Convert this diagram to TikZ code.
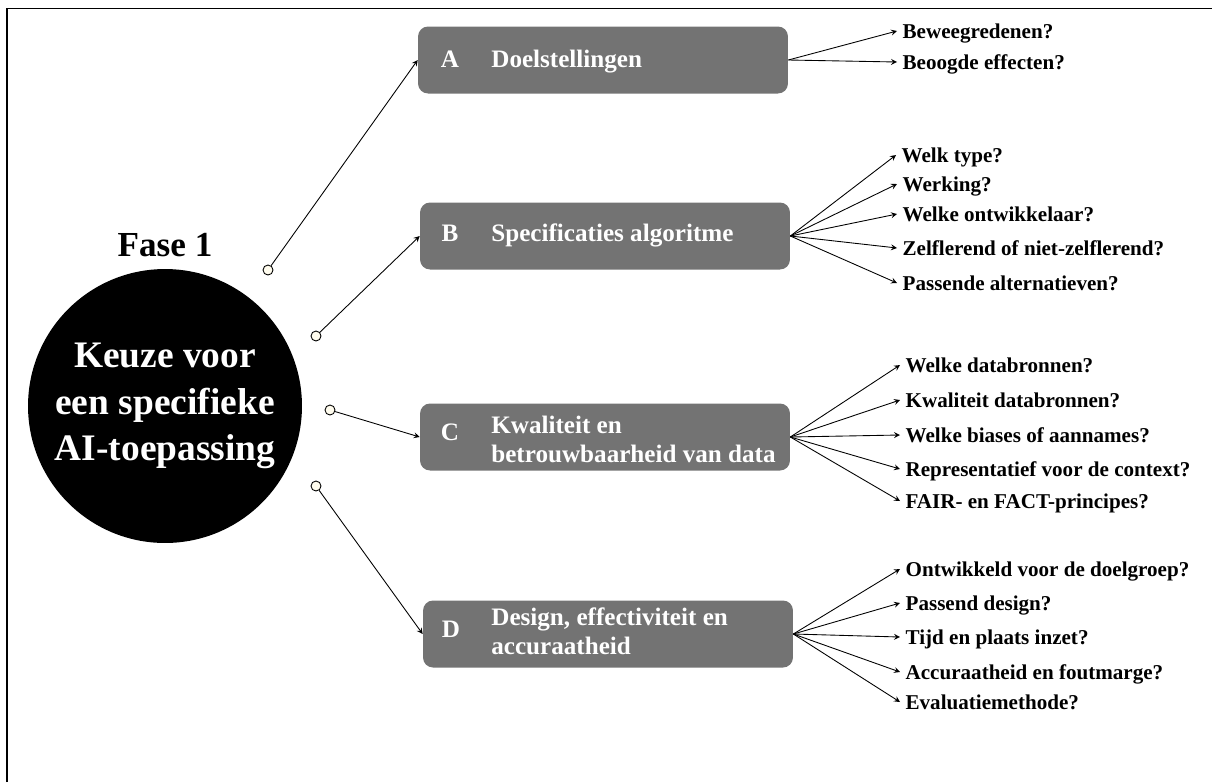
\documentclass[tikz,border=0pt]{standalone}
\usepackage{fontspec}
\setmainfont{Liberation Serif}
\usepackage{tikz}
\usetikzlibrary{shapes.geometric, arrows}
\definecolor{stapgrijs}{HTML}{737373}
\definecolor{puntvul}{HTML}{FFFCEE}
\tikzstyle{arrow} = [line width=0.5pt,->,>=stealth]
\tikzstyle{stap} = [rectangle, rounded corners=0.2cm, fill=stapgrijs, minimum width=7.4cm, minimum height=1.34cm]
\tikzstyle{punt} = [circle, draw, line width=0.5pt, fill=puntvul, inner sep=0pt, minimum size=0.2cm]
\tikzstyle{letter} = [text=white, anchor=base, font=\fontsize{14.3}{16.5}\selectfont\bfseries]
\tikzstyle{titel} = [text=white, anchor=base west, inner sep=0pt, font=\fontsize{14.3}{16.5}\selectfont\bfseries]
\tikzstyle{titel2} = [titel, anchor=west, align=left]
\tikzstyle{vraag} = [anchor=west, inner sep=3pt, text height=0.9em, text depth=0.1em, font=\fontsize{12}{14}\selectfont\bfseries]

\begin{document}
\begin{tikzpicture}[x=0.02cm, y=-0.02cm]
    \useasboundingbox (0,0) rectangle (1212,782);
    % kader
    \draw[line width=1.1pt] (7,782) -- (7,8.5) -- (1212,8.5);

    % fase en keuze
    \node[font=\fontsize{20}{24}\selectfont\bfseries] (fase) at (165,245) {Fase 1};
    \node[circle, fill=black, minimum size=5.48cm, text=white, align=center,
          font=\fontsize{21.3}{26.5}\selectfont\bfseries] (keuze) at (165,406) {Keuze voor\\een specifieke\\AI-toepassing};

    \node[punt] (pa) at (268,270) {};
    \node[punt] (pb) at (316,336) {};
    \node[punt] (pc) at (330,410) {};
    \node[punt] (pd) at (316,486) {};

    % stappen
    \node[stap] (A) at (603,60) {};
    \node[letter] (la) at (450,67) {A};
    \node[titel] (ta) at (491,67) {Doelstellingen};

    \node[stap] (B) at (605,236) {};
    \node[letter] (lb) at (450,241) {B};
    \node[titel] (tb) at (491,241) {Specificaties algoritme};

    \node[stap] (C) at (605,437) {};
    \node[letter] (lc) at (450,440) {C};
    \node[titel2] (tc) at (491,439) {Kwaliteit en\\betrouwbaarheid van data};

    \node[stap] (D) at (608,634) {};
    \node[letter] (ld) at (451,637) {D};
    \node[titel2] (td) at (491,631) {Design, effectiviteit en\\accuraatheid};

    \draw[arrow] (pa) -- (A.west);
    \draw[arrow] (pb) -- (B.west);
    \draw[arrow] (pc) -- (C.west);
    \draw[arrow] (pd) -- (D.west);

    % vragen A
    \node[vraag] (a1) at (897,31) {Beweegredenen?};
    \node[vraag] (a2) at (897,62) {Beoogde effecten?};
    \draw[arrow] (A.east) -- (a1.west);
    \draw[arrow] (A.east) -- (a2.west);

    % vragen B
    \node[vraag] (b1) at (896,155) {Welk type?};
    \node[vraag] (b2) at (897,184) {Werking?};
    \node[vraag] (b3) at (897,214) {Welke ontwikkelaar?};
    \node[vraag] (b4) at (897,248) {Zelflerend of niet-zelflerend?};
    \node[vraag] (b5) at (897,283) {Passende alternatieven?};
    \draw[arrow] (B.east) -- (b1.west);
    \draw[arrow] (B.east) -- (b2.west);
    \draw[arrow] (B.east) -- (b3.west);
    \draw[arrow] (B.east) -- (b4.west);
    \draw[arrow] (B.east) -- (b5.west);

    % vragen C
    \node[vraag] (c1) at (900,365) {Welke databronnen?};
    \node[vraag] (c2) at (900,400) {Kwaliteit databronnen?};
    \node[vraag] (c3) at (900,435) {Welke biases of aannames?};
    \node[vraag] (c4) at (900,469) {Representatief voor de context?};
    \node[vraag] (c5) at (900,501) {FAIR- en FACT-principes?};
    \draw[arrow] (C.east) -- (c1.west);
    \draw[arrow] (C.east) -- (c2.west);
    \draw[arrow] (C.east) -- (c3.west);
    \draw[arrow] (C.east) -- (c4.west);
    \draw[arrow] (C.east) -- (c5.west);

    % vragen D
    \node[vraag] (d1) at (900,569) {Ontwikkeld voor de doelgroep?};
    \node[vraag] (d2) at (900,603) {Passend design?};
    \node[vraag] (d3) at (900,637) {Tijd en plaats inzet?};
    \node[vraag] (d4) at (900,672) {Accuraatheid en foutmarge?};
    \node[vraag] (d5) at (900,702) {Evaluatiemethode?};
    \draw[arrow] (D.east) -- (d1.west);
    \draw[arrow] (D.east) -- (d2.west);
    \draw[arrow] (D.east) -- (d3.west);
    \draw[arrow] (D.east) -- (d4.west);
    \draw[arrow] (D.east) -- (d5.west);
\end{tikzpicture}
\end{document}
